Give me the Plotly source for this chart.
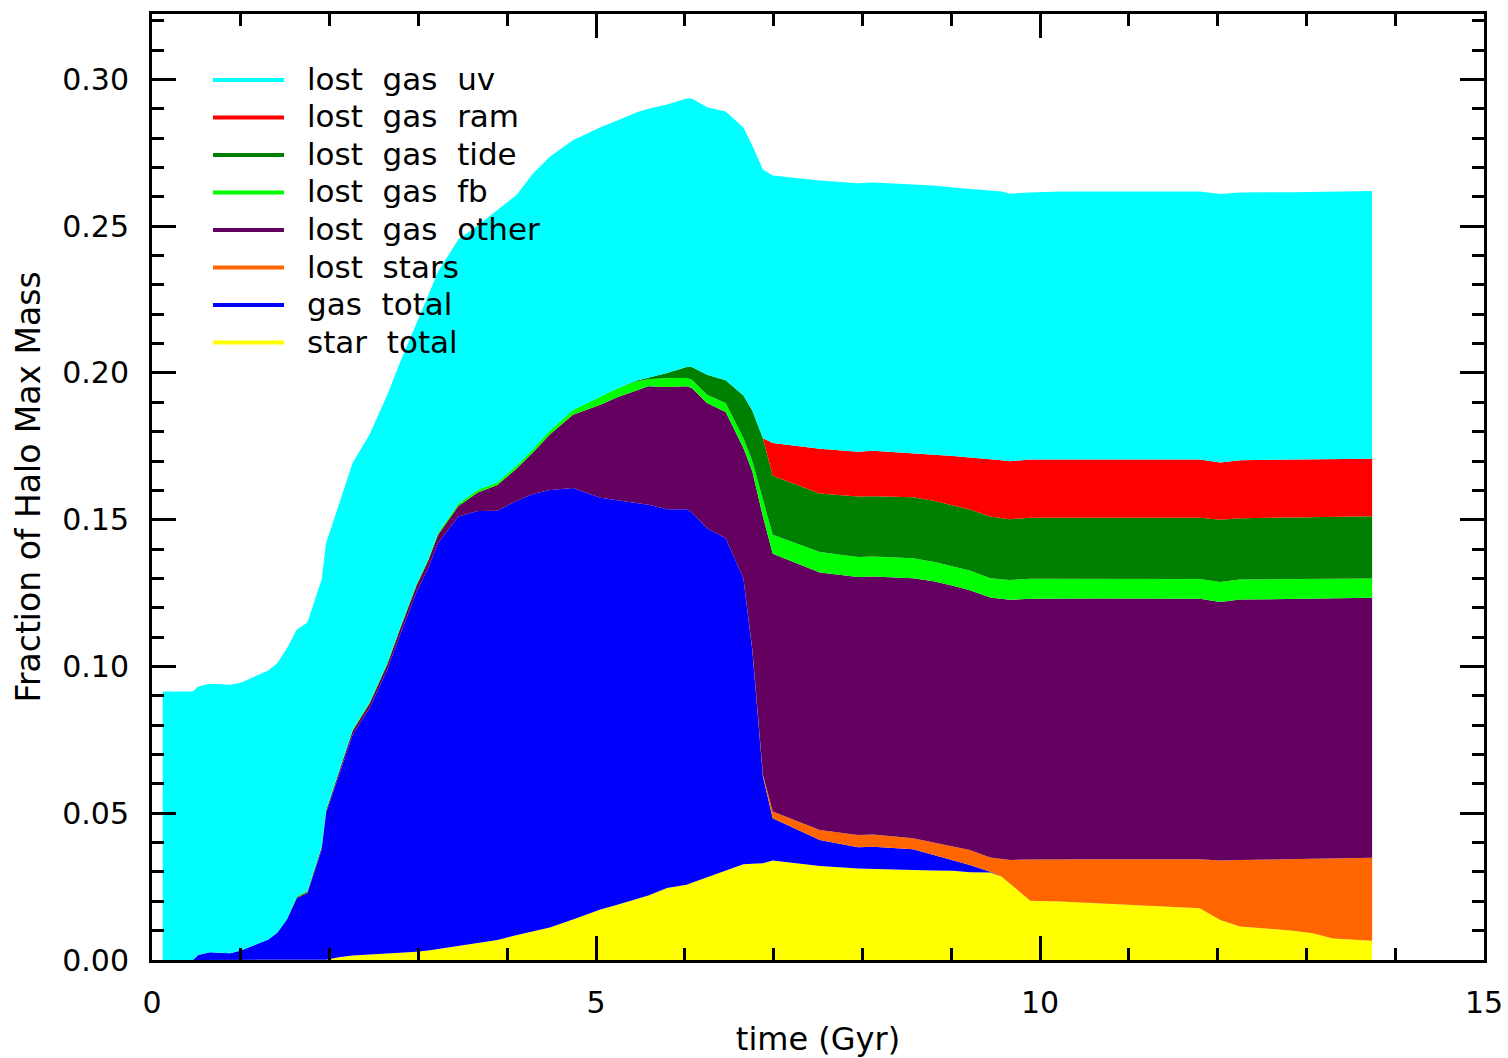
import plotly.graph_objects as go

# Time of each snapshot (Gyr)
time_gyr = [0.12, 0.46, 0.52, 0.65, 0.88, 1.00, 1.31, 1.41, 1.52, 1.63,
            1.75, 1.91, 1.96, 2.12, 2.26, 2.45, 2.65, 2.79, 2.98, 3.11,
            3.22, 3.45, 3.67, 3.89, 4.11, 4.29, 4.48, 4.74, 5.05, 5.24,
            5.46, 5.59, 5.80, 6.02, 6.08, 6.25, 6.46, 6.66, 6.76, 6.88,
            6.99, 7.52, 7.95, 8.12, 8.57, 8.80, 9.02, 9.21, 9.44, 9.57,
            9.66, 9.89, 10.23, 10.68, 11.80, 12.03, 12.25, 12.85, 13.07, 13.30,
            13.74]

# Cumulative fractions of halo max mass: each list is the upper edge of its
# component once all components listed before it are stacked underneath.
top_star_total = [0, 0, 0, 0, 0, 0, 0, 0, 0, 0,
                  0, 0, 0.0001, 0.0010, 0.0015, 0.0019, 0.0022, 0.0025, 0.0028, 0.0032,
                  0.0037, 0.0046, 0.0058, 0.0068, 0.0085, 0.0098, 0.0111, 0.0138, 0.0172, 0.0188,
                  0.0208, 0.0220, 0.0245, 0.0256, 0.0263, 0.0281, 0.0303, 0.0326, 0.0328, 0.0330,
                  0.0339, 0.0320, 0.0312, 0.0310, 0.0307, 0.0305, 0.0304, 0.0299, 0.0298, 0.0284,
                  0.0261, 0.0202, 0.0199, 0.0193, 0.0176, 0.0136, 0.0114, 0.0100, 0.0091, 0.0073,
                  0.0066]

top_gas_total = [0, 0, 0.0017, 0.0026, 0.0023, 0.0032, 0.0070, 0.0093, 0.0139, 0.0210,
                 0.0227, 0.0375, 0.0500, 0.0640, 0.0767, 0.0858, 0.0990, 0.1105, 0.1255, 0.1335,
                 0.1420, 0.1511, 0.1530, 0.1531, 0.1565, 0.1588, 0.1601, 0.1608, 0.1575, 0.1566,
                 0.1558, 0.1551, 0.1536, 0.1536, 0.1525, 0.1471, 0.1437, 0.1301, 0.1057, 0.0625,
                 0.0483, 0.0409, 0.0384, 0.0386, 0.0377, 0.0358, 0.0340, 0.0324, 0.0301, 0.0284,
                 0.0261, 0.0202, 0.0199, 0.0193, 0.0176, 0.0136, 0.0114, 0.0100, 0.0091, 0.0073,
                 0.0066]

top_lost_stars = [0, 0, 0.0017, 0.0026, 0.0023, 0.0032, 0.0070, 0.0093, 0.0139, 0.0210,
                  0.0227, 0.0375, 0.0500, 0.0640, 0.0767, 0.0858, 0.0990, 0.1105, 0.1255, 0.1335,
                  0.1420, 0.1511, 0.1530, 0.1531, 0.1565, 0.1588, 0.1601, 0.1608, 0.1575, 0.1566,
                  0.1558, 0.1551, 0.1536, 0.1536, 0.1525, 0.1471, 0.1437, 0.1301, 0.1060, 0.0631,
                  0.0506, 0.0443, 0.0426, 0.0428, 0.0415, 0.0401, 0.0389, 0.0375, 0.0349, 0.0345,
                  0.0341, 0.0342, 0.0343, 0.0343, 0.0343, 0.0339, 0.0341, 0.0343, 0.0344, 0.0346,
                  0.0348]

top_lost_gas_other = [0, 0, 0.0017, 0.0026, 0.0023, 0.0032, 0.0070, 0.0093, 0.0139, 0.0213,
                      0.0232, 0.0383, 0.0508, 0.0650, 0.0781, 0.0874, 0.1008, 0.1125, 0.1277, 0.1360,
                      0.1448, 0.1547, 0.1593, 0.1618, 0.1675, 0.1729, 0.1790, 0.1858, 0.1892, 0.1917,
                      0.1941, 0.1955, 0.1952, 0.1955, 0.1949, 0.1898, 0.1867, 0.1744, 0.1665, 0.1511,
                      0.1384, 0.1320, 0.1305, 0.1307, 0.1301, 0.1290, 0.1275, 0.1260, 0.1235, 0.1229,
                      0.1227, 0.1231, 0.1232, 0.1232, 0.1231, 0.1220, 0.1228, 0.1231, 0.1232, 0.1233,
                      0.1234]

top_lost_gas_fb = [0, 0, 0.0017, 0.0026, 0.0023, 0.0032, 0.0070, 0.0093, 0.0139, 0.0217,
                   0.0236, 0.0387, 0.0513, 0.0655, 0.0786, 0.0879, 0.1014, 0.1131, 0.1283, 0.1367,
                   0.1455, 0.1555, 0.1602, 0.1628, 0.1686, 0.1741, 0.1804, 0.1874, 0.1920, 0.1948,
                   0.1972, 0.1979, 0.1983, 0.1983, 0.1977, 0.1926, 0.1898, 0.1778, 0.1700, 0.1565,
                   0.1449, 0.1390, 0.1373, 0.1375, 0.1369, 0.1357, 0.1342, 0.1327, 0.1301, 0.1296,
                   0.1295, 0.1299, 0.1299, 0.1299, 0.1298, 0.1288, 0.1296, 0.1298, 0.1299, 0.1300,
                   0.1300]

top_lost_gas_tide = [0, 0, 0.0017, 0.0026, 0.0023, 0.0032, 0.0070, 0.0093, 0.0139, 0.0217,
                     0.0236, 0.0387, 0.0513, 0.0655, 0.0786, 0.0879, 0.1014, 0.1131, 0.1283, 0.1367,
                     0.1455, 0.1555, 0.1602, 0.1628, 0.1686, 0.1741, 0.1804, 0.1874, 0.1920, 0.1948,
                     0.1974, 0.1983, 0.2000, 0.2020, 0.2020, 0.1994, 0.1975, 0.1923, 0.1872, 0.1778,
                     0.1650, 0.1589, 0.1579, 0.1580, 0.1577, 0.1565, 0.1550, 0.1535, 0.1511, 0.1505,
                     0.1502, 0.1507, 0.1507, 0.1507, 0.1507, 0.1500, 0.1505, 0.1508, 0.1509, 0.1510,
                     0.1512]

top_lost_gas_ram = [0, 0, 0.0017, 0.0026, 0.0023, 0.0032, 0.0070, 0.0093, 0.0139, 0.0217,
                    0.0236, 0.0387, 0.0513, 0.0655, 0.0786, 0.0879, 0.1014, 0.1131, 0.1283, 0.1367,
                    0.1455, 0.1555, 0.1602, 0.1628, 0.1686, 0.1741, 0.1804, 0.1874, 0.1920, 0.1948,
                    0.1974, 0.1983, 0.2000, 0.2020, 0.2020, 0.1994, 0.1975, 0.1923, 0.1872, 0.1778,
                    0.1761, 0.1742, 0.1732, 0.1735, 0.1727, 0.1722, 0.1717, 0.1712, 0.1707, 0.1703,
                    0.1699, 0.1705, 0.1705, 0.1705, 0.1705, 0.1695, 0.1703, 0.1705, 0.1706, 0.1707,
                    0.1708]

top_lost_gas_uv = [0.0915, 0.0915, 0.0932, 0.0941, 0.0938, 0.0945, 0.0986, 0.1011, 0.1062, 0.1125,
                   0.1150, 0.1296, 0.1420, 0.1568, 0.1694, 0.1790, 0.1926, 0.2034, 0.2168, 0.2264,
                   0.2345, 0.2455, 0.2502, 0.2554, 0.2608, 0.2680, 0.2737, 0.2793, 0.2837, 0.2860,
                   0.2888, 0.2900, 0.2915, 0.2935, 0.2935, 0.2905, 0.2891, 0.2836, 0.2775, 0.2693,
                   0.2673, 0.2656, 0.2646, 0.2649, 0.2642, 0.2639, 0.2632, 0.2627, 0.2621, 0.2618,
                   0.2611, 0.2615, 0.2618, 0.2618, 0.2618, 0.2610, 0.2615, 0.2616, 0.2617, 0.2617,
                   0.2620]

# Components from bottom to top of the stack: (legend label, colour, upper edge)
layers = [
    ("star total", "#ffff00", top_star_total),
    ("gas total", "#0000ff", top_gas_total),
    ("lost stars", "#ff6600", top_lost_stars),
    ("lost gas other", "#630060", top_lost_gas_other),
    ("lost gas fb", "#00ff00", top_lost_gas_fb),
    ("lost gas tide", "#008000", top_lost_gas_tide),
    ("lost gas ram", "#ff0000", top_lost_gas_ram),
    ("lost gas uv", "#00ffff", top_lost_gas_uv),
]

W, H = 1508, 1058
ML, MR, MT, MB = 152, 24, 14, 98
FONT = "DejaVu Sans"

fig = go.Figure()
for i, (name, color, edge) in enumerate(layers):
    fig.add_trace(go.Scatter(
        x=time_gyr, y=edge, name=name, mode="lines",
        line=dict(width=0, color=color),
        fill="tozeroy" if i == 0 else "tonexty",
        fillcolor=color, showlegend=False, hoverinfo="skip",
    ))

# Legend block drawn in the upper-left corner, top entry = top layer
plot_w = W - ML - MR
plot_h = H - MT - MB


def px_to_paper(px, py):
    return (px - ML) / plot_w, (H - MB - py) / plot_h


shapes = []
annotations = []
for k, (name, color, _) in enumerate(reversed(layers)):
    row_y = 80 + k * 37.5
    x0, y0 = px_to_paper(213, row_y)
    x1, _ = px_to_paper(284, row_y)
    xt, yt = px_to_paper(305, row_y - 1)
    shapes.append(dict(type="line", xref="paper", yref="paper",
                       x0=x0, x1=x1, y0=y0, y1=y0,
                       line=dict(color=color, width=4)))
    # wide word gaps, as in the plotting package's legend style
    label = name.replace(" ", "\u00a0\u00a0")
    annotations.append(dict(text=label, xref="paper", yref="paper", x=xt, y=yt,
                            xanchor="left", yanchor="middle", showarrow=False,
                            font=dict(family=FONT, size=31, color="black")))

axis_common = dict(
    showgrid=False, zeroline=False, showline=True, linecolor="black", linewidth=3,
    ticks="inside", ticklen=24, tickwidth=3, tickcolor="black", mirror="ticks",
    tickfont=dict(family=FONT, size=30, color="black"),
)

fig.update_layout(
    width=W, height=H,
    margin=dict(l=ML, r=MR, t=MT, b=MB, autoexpand=False),
    paper_bgcolor="white", plot_bgcolor="white",
    shapes=shapes, annotations=annotations,
    xaxis=dict(
        range=[0, 15], tickvals=[0, 5, 10, 15], ticktext=["0", "5", "10", "15"],
        minor=dict(dtick=1, tick0=0, ticks="inside", ticklen=12, tickwidth=3,
                   tickcolor="black", showgrid=False),
        ticklabelstandoff=14,
        title=dict(text="time (Gyr)", font=dict(family=FONT, size=32, color="black"),
                   standoff=10),
        **axis_common,
    ),
    yaxis=dict(
        range=[0, 0.3223], tick0=0, dtick=0.05, tickformat=".2f",
        minor=dict(dtick=0.01, tick0=0, ticks="inside", ticklen=12, tickwidth=3,
                   tickcolor="black", showgrid=False),
        ticklabelstandoff=14,
        title=dict(text="Fraction of Halo Max Mass",
                   font=dict(family=FONT, size=33, color="black"), standoff=12),
        **axis_common,
    ),
    hovermode=False,
)

fig.write_html("out.html", config={"displayModeBar": False})
